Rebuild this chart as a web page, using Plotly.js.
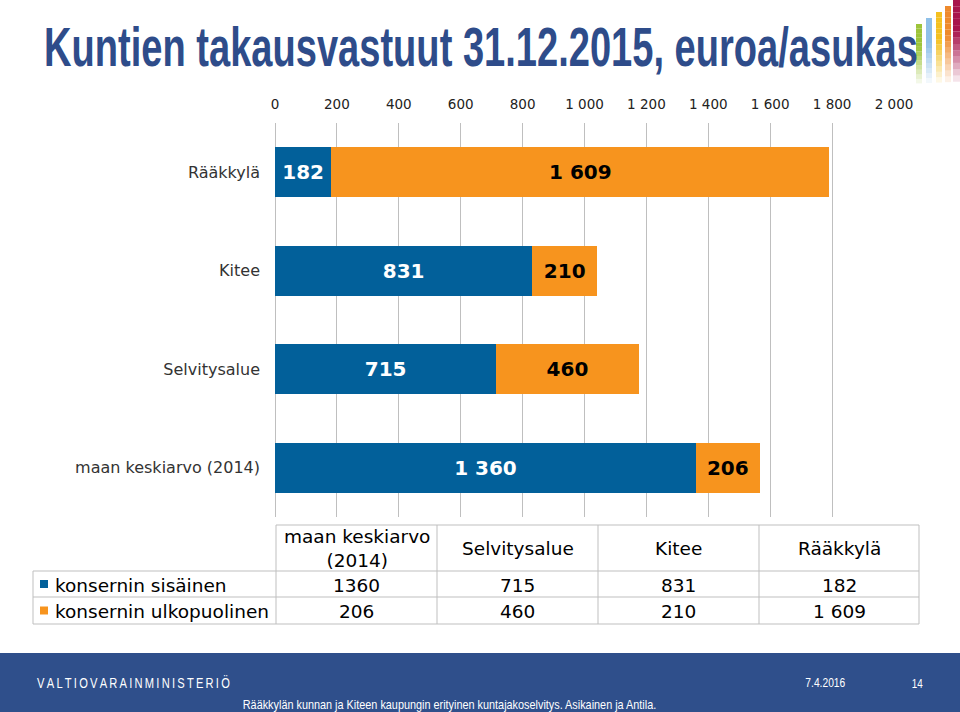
<!DOCTYPE html>
<html>
<head>
<meta charset="utf-8">
<script src="https://cdn.plot.ly/plotly-3.0.1.min.js"></script>
<style>html,body{margin:0;padding:0;background:#fff;}#chart{width:960px;height:712px;}</style>
</head>
<body>
<div id="chart"></div>
<script>
// ---- data ----
const categories = ['maan keskiarvo (2014)', 'Selvitysalue', 'Kitee', 'Rääkkylä'];
const seriesNames = ['konsernin sisäinen', 'konsernin ulkopuolinen'];
const sisainen = [1360, 715, 831, 182];
const ulkopuolinen = [206, 460, 210, 1609];
const xTicks = [0, 200, 400, 600, 800, 1000, 1200, 1400, 1600, 1800, 2000];
const titleText = 'Kuntien takausvastuut 31.12.2015, euroa/asukas';
const footerOrg = 'VALTIOVARAINMINISTERIÖ';
const footerDate = '7.4.2016';
const footerPage = '14';
const footerSource = 'Rääkkylän kunnan ja Kiteen kaupungin erityinen kuntajakoselvitys. Asikainen ja Antila.';

// ---- styling ----
const W = 960, H = 712;
const px = x => x / W;
const py = y => 1 - y / H;
const BLUE = '#02609A', ORANGE = '#F7941E', GRID = '#BFBFBF';
const VERD = 'DejaVu Sans, Verdana, sans-serif';
const ARIAL = 'Liberation Sans, Arial, sans-serif';
const TBL = 18.5;

const traces = [
  {type: 'bar', orientation: 'h', name: seriesNames[0], y: categories, x: sisainen,
   marker: {color: BLUE}, texttemplate: '%{x:,}', textposition: 'inside', insidetextanchor: 'middle',
   textangle: 0, constraintext: 'none',
   textfont: {family: VERD, size: 20, color: '#ffffff', weight: 'bold'}, hoverinfo: 'x+name'},
  {type: 'bar', orientation: 'h', name: seriesNames[1], y: categories, x: ulkopuolinen,
   marker: {color: ORANGE}, texttemplate: '%{x:,}', textposition: 'inside', insidetextanchor: 'middle',
   textangle: 0, constraintext: 'none',
   textfont: {family: VERD, size: 20, color: '#000000', weight: 'bold'}, hoverinfo: 'x+name'}
];

const shapes = [];
const annotations = [];
const condense = {}; // annotation index -> {width, anchor}

// footer band
shapes.push({type: 'rect', xref: 'paper', yref: 'paper', x0: 0, x1: 1, y0: py(712), y1: py(653),
  fillcolor: '#2F4F8B', line: {width: 0}, layer: 'below'});

// decorative colour bars (top-right)
const deco = [
  {x0: 916, x1: 922, top: 24, color: '#9DC43A'},
  {x0: 926, x1: 932, top: 18, color: '#8FC0E8'},
  {x0: 936, x1: 942, top: 12, color: '#F4C020'},
  {x0: 945, x1: 951, top: 6, color: '#EE8A2C'},
  {x0: 953, x1: 960, top: 0, color: '#A8144C'}
];
deco.forEach(d => {
  const bottom = 88, steps = 14;
  const h = (bottom - d.top) / steps;
  for (let i = 0; i < steps; i++) {
    const t = i / (steps - 1);
    const op = t < 0.35 ? 1 : Math.max(0, 1 - (t - 0.35) / 0.65);
    shapes.push({type: 'rect', xref: 'paper', yref: 'paper', x0: px(d.x0), x1: px(d.x1),
      y0: py(d.top + (i + 1) * h), y1: py(d.top + i * h), fillcolor: d.color, opacity: op,
      line: {width: 0}, layer: 'below'});
  }
});

function addNote(a, cond) {
  annotations.push(Object.assign({xref: 'paper', yref: 'paper', showarrow: false}, a));
  if (cond) condense[annotations.length - 1] = cond;
}

// title
addNote({x: px(42), y: py(47), xanchor: 'left', yanchor: 'middle', text: titleText,
  font: {family: ARIAL, size: 55, color: '#2E4C8A', weight: 'bold'}}, {width: 874, anchor: 'left'});

// ---- data table ----
const colEdges = [276, 437, 598, 759, 919];
const tableLeft = 33;
const yHeadTop = 525, yRow1 = 571, yRow2 = 597, yBottom = 624;
const line = (x0, y0, x1, y1) => shapes.push({type: 'line', xref: 'paper', yref: 'paper',
  x0: px(x0), y0: py(y0), x1: px(x1), y1: py(y1), line: {color: GRID, width: 1}});
line(colEdges[0], yHeadTop, colEdges[4], yHeadTop);
[yRow1, yRow2, yBottom].forEach(y => line(tableLeft, y, colEdges[4], y));
line(tableLeft, yRow1, tableLeft, yBottom);
colEdges.forEach(x => line(x, yHeadTop, x, yBottom));

const fmtSpace = v => String(v).replace(/\B(?=(\d{3})+(?!\d))/g, ' ');
const rows = [
  {name: seriesNames[0], values: sisainen.map(v => String(v)), color: BLUE, yc: (yRow1 + yRow2) / 2},
  {name: seriesNames[1], values: ulkopuolinen.map(fmtSpace), color: ORANGE, yc: (yRow2 + yBottom) / 2}
];
categories.forEach((c, i) => {
  const xc = (colEdges[i] + colEdges[i + 1]) / 2;
  addNote({x: px(xc), y: py((yHeadTop + yRow1) / 2), xanchor: 'center', yanchor: 'middle',
    text: c.replace(' (', '<br>('), font: {family: VERD, size: TBL, color: '#000'}});
  rows.forEach(r => {
    addNote({x: px(xc), y: py(r.yc + 1), xanchor: 'center', yanchor: 'middle',
      text: r.values[i], font: {family: VERD, size: TBL, color: '#000'}});
  });
});
rows.forEach(r => {
  shapes.push({type: 'rect', xref: 'paper', yref: 'paper', x0: px(40), x1: px(48),
    y0: py(r.yc + 4), y1: py(r.yc - 4), fillcolor: r.color, line: {width: 0}});
  addNote({x: px(53), y: py(r.yc + 1), xanchor: 'left', yanchor: 'middle',
    text: r.name, font: {family: VERD, size: TBL, color: '#000'}});
});

// footer texts
addNote({x: px(35), y: py(682), xanchor: 'left', yanchor: 'middle',
  text: footerOrg.split('').join('\u2009'), font: {family: ARIAL, size: 14, color: '#ffffff'}},
  {width: 193, anchor: 'left'});
addNote({x: px(825), y: py(682), xanchor: 'center', yanchor: 'middle',
  text: footerDate, font: {family: ARIAL, size: 13, color: '#ffffff'}}, {width: 40, anchor: 'center'});
addNote({x: px(917), y: py(683), xanchor: 'center', yanchor: 'middle',
  text: footerPage, font: {family: ARIAL, size: 13, color: '#ffffff'}}, {width: 11, anchor: 'center'});
addNote({x: px(449), y: py(704), xanchor: 'center', yanchor: 'middle',
  text: footerSource, font: {family: ARIAL, size: 13, color: '#ffffff'}}, {width: 414, anchor: 'center'});

const layout = {
  width: W, height: H,
  margin: {l: 0, r: 0, t: 0, b: 0, pad: 0},
  paper_bgcolor: '#ffffff', plot_bgcolor: '#ffffff',
  separators: ', ',
  barmode: 'stack', bargap: 0.49,
  showlegend: false,
  xaxis: {domain: [px(275), px(894)], range: [0, 2000], side: 'top', tickvals: xTicks,
    tickformat: ',', showgrid: true, gridcolor: GRID, gridwidth: 1,
    zeroline: true, zerolinecolor: GRID, zerolinewidth: 1, showline: false, ticks: '',
    ticklabelstandoff: 10,
    tickfont: {family: VERD, size: 13.5, color: '#222'}, fixedrange: true},
  yaxis: {domain: [py(517), py(123)], type: 'category', categoryorder: 'array', categoryarray: categories,
    showgrid: false, zeroline: false, showline: false, ticks: '', ticklabelstandoff: 14,
    tickfont: {family: VERD, size: 16, color: '#333'}, fixedrange: true},
  shapes: shapes,
  annotations: annotations
};

Plotly.newPlot('chart', traces, layout, {displayModeBar: false, staticPlot: true}).then(gd => {
  // horizontally condense narrow-font texts (title / footer) to their reference widths
  gd.querySelectorAll('.annotation').forEach(g => {
    const idx = g.getAttribute('data-index');
    const c = condense[idx];
    if (!c) return;
    const t = g.querySelector('text.annotation-text');
    if (!t) return;
    const bb = t.getBBox();
    if (!bb.width) return;
    const s = c.width / bb.width;
    const ax = c.anchor === 'left' ? bb.x : bb.x + bb.width / 2;
    const old = t.getAttribute('transform') || '';
    t.setAttribute('transform', (old + ' translate(' + (ax * (1 - s)) + ',0) scale(' + s + ',1)').trim());
  });
});
</script>
</body>
</html>
